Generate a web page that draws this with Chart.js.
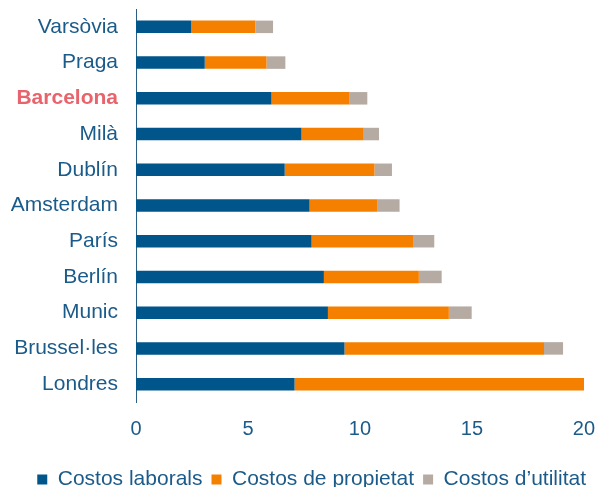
<!DOCTYPE html>
<html>
<head>
<meta charset="utf-8">
<script src="https://cdn.jsdelivr.net/npm/chart.js@4/dist/chart.umd.min.js"></script>
<style>
  html, body { margin: 0; padding: 0; background: #fff; }
  #wrap { width: 595px; height: 487px; }
</style>
</head>
<body>
<div id="wrap"><canvas id="grafic"></canvas></div>
<script>
const ciutats = ['Varsòvia', 'Praga', 'Barcelona', 'Milà', 'Dublín', 'Amsterdam', 'París', 'Berlín', 'Munic', 'Brussel·les', 'Londres'];
const costosLaborals = [2.47, 3.07, 6.05, 7.39, 6.64, 7.75, 7.84, 8.39, 8.57, 9.31, 7.08];
const costosPropietat = [2.86, 2.76, 3.49, 2.78, 4.01, 3.04, 4.56, 4.24, 5.40, 8.91, 12.95];
const costosUtilitat = [0.79, 0.84, 0.79, 0.68, 0.78, 0.98, 0.92, 1.02, 1.02, 0.85, 0];
const ticksX = [0, 5, 10, 15, 20];

const blau = '#00558a';
const textBlau = '#1b5b8a';
const lletra = 'Liberation Sans, Arial, sans-serif';

const ctx = document.getElementById('grafic').getContext('2d');
new Chart(ctx, {
    type: 'bar',
    data: {
        labels: ciutats,
        datasets: [
            { label: 'Costos laborals', data: costosLaborals, backgroundColor: blau },
            { label: 'Costos de propietat', data: costosPropietat, backgroundColor: '#f58000' },
            { label: 'Costos d\u2019utilitat', data: costosUtilitat, backgroundColor: '#b5aba2' }
        ]
    },
    options: {
        indexAxis: 'y',
        responsive: true,
        maintainAspectRatio: false,
        animation: false,
        layout: { padding: { top: 9, left: 10, right: 0, bottom: -13 } },
        datasets: {
            bar: { categoryPercentage: 1, barPercentage: 0.35 }
        },
        scales: {
            x: {
                stacked: true,
                min: 0,
                max: 20,
                afterBuildTicks: axis => { axis.ticks = ticksX.map(v => ({ value: v })); },
                afterFit: s => { s.height = 58; },
                grid: { display: false, drawTicks: true, tickLength: 19 },
                border: { display: false },
                ticks: {
                    color: textBlau,
                    padding: 0,
                    font: { family: lletra, size: 20, lineHeight: 0.8 }
                }
            },
            y: {
                stacked: true,
                afterFit: s => { s.width = 126; },
                grid: { display: false, drawTicks: true, tickLength: 18 },
                border: { display: true, color: '#2a5f86', width: 1 },
                ticks: {
                    padding: 0,
                    color: c => ciutats[c.index] === 'Barcelona' ? '#e8636b' : textBlau,
                    font: c => ({
                        family: lletra,
                        size: 21,
                        lineHeight: 0.8,
                        weight: ciutats[c.index] === 'Barcelona' ? 'bold' : 'normal'
                    })
                }
            }
        },
        plugins: {
            legend: {
                position: 'bottom',
                align: 'end',
                labels: {
                    color: textBlau,
                    boxWidth: 10,
                    boxHeight: 10,
                    padding: 9,
                    font: { family: lletra, size: 21 }
                }
            },
            tooltip: { enabled: false }
        }
    }
});
</script>
</body>
</html>
